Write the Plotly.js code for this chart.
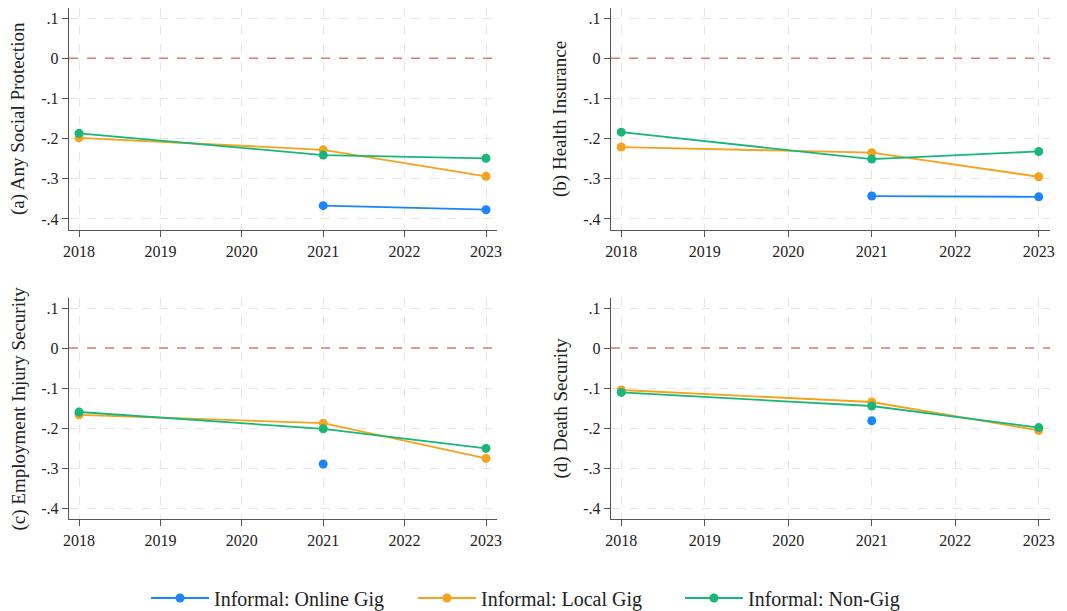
<!DOCTYPE html>
<html>
<head>
<meta charset="utf-8">
<script src="https://cdn.plot.ly/plotly-3.0.1.min.js"></script>
<style>html,body{margin:0;padding:0;background:#fff;}#chart{width:1067px;height:611px;}</style>
</head>
<body>
<div id="chart"></div>
<script>
const years = [2018, 2021, 2023];
const panelTitles = ["(a) Any Social Protection", "(b) Health Insurance", "(c) Employment Injury Security", "(d) Death Security"];
const seriesNames = ["Informal: Online Gig", "Informal: Local Gig", "Informal: Non-Gig"];
const seriesColors = ["#1a85ff", "#f5a31c", "#18b679"];

// values per panel, aligned with years (null = not available)
const onlineGig = [
  [null, -0.367, -0.377],
  [null, -0.343, -0.345],
  [null, -0.290, null],
  [null, -0.182, null]
];
const localGig = [
  [-0.198, -0.228, -0.294],
  [-0.221, -0.235, -0.295],
  [-0.167, -0.188, -0.276],
  [-0.105, -0.135, -0.206]
];
const nonGig = [
  [-0.187, -0.241, -0.249],
  [-0.184, -0.251, -0.232],
  [-0.160, -0.202, -0.251],
  [-0.111, -0.145, -0.199]
];

const xTicks = [2018, 2019, 2020, 2021, 2022, 2023];
const yTickVals = [0.1, 0, -0.1, -0.2, -0.3, -0.4];
const yTickText = [".1", "0", "-.1", "-.2", "-.3", "-.4"];

const W = 1067, H = 611;
const font = "'Liberation Serif', serif";
const panels = [
  {l: 69, r: 497, t: 8, b: 230},
  {l: 611, r: 1050, t: 8, b: 230},
  {l: 69, r: 497, t: 298, b: 519},
  {l: 611, r: 1050, t: 298, b: 519}
];
const allSeries = [onlineGig, localGig, nonGig];

const traces = [];
const layout = {
  width: W, height: H,
  margin: {l: 0, r: 0, t: 0, b: 0, autoexpand: false},
  paper_bgcolor: "#fff", plot_bgcolor: "#fff",
  font: {family: font, size: 15, color: "#222"},
  showlegend: true,
  legend: {orientation: "h", x: 146 / 1067, xanchor: "left", y: 13 / 611, yanchor: "middle",
           font: {family: font, size: 20, color: "#222"}, itemwidth: 58, tracegroupgap: 0,
           entrywidth: 194, entrywidthmode: "pixels"},
  shapes: [], annotations: []
};

panels.forEach((p, i) => {
  const ax = i === 0 ? "" : String(i + 1);
  const xa = "x" + ax, ya = "y" + ax;
  allSeries.forEach((s, k) => {
    traces.push({
      x: years, y: s[i], type: "scatter", mode: "lines+markers",
      name: seriesNames[k], legendgroup: seriesNames[k], showlegend: i === 0,
      line: {color: seriesColors[k], width: 1.8},
      marker: {color: seriesColors[k], size: 9},
      connectgaps: false,
      xaxis: xa, yaxis: ya, hoverinfo: "skip"
    });
  });
  layout["xaxis" + ax] = {
    domain: [p.l / W, p.r / W], anchor: ya,
    range: [2017.877, 2023.135],
    tickvals: xTicks, ticks: "outside", ticklen: 6, tickcolor: "#555",
    showline: true, linecolor: "#555", linewidth: 1.3,
    showgrid: true, gridcolor: "#e6e6e6", griddash: "dash", gridwidth: 1,
    zeroline: false, tickfont: {family: font, size: 16, color: "#222"}
  };
  layout["yaxis" + ax] = {
    domain: [1 - p.b / H, 1 - p.t / H], anchor: xa,
    range: [-0.4275, 0.125],
    tickvals: yTickVals, ticktext: yTickText, ticks: "outside", ticklen: 6, tickcolor: "#555",
    showline: true, linecolor: "#555", linewidth: 1.3,
    showgrid: true, gridcolor: "#e6e6e6", griddash: "dash", gridwidth: 1,
    zeroline: false, tickfont: {family: font, size: 16, color: "#222"}
  };
  layout.shapes.push({
    type: "line", xref: xa + " domain", yref: ya, x0: 0, x1: 1, y0: 0, y1: 0,
    line: {color: "#e07a74", width: 1.4, dash: "dash"}, layer: "above"
  });
  layout.annotations.push({
    text: panelTitles[i], textangle: -90, showarrow: false,
    xref: "paper", yref: "paper",
    x: (p.l - 51) / W, xanchor: "center",
    y: 1 - ((p.t + p.b) / 2) / H, yanchor: "middle",
    font: {family: font, size: 19, color: "#222"}
  });
});

Plotly.newPlot("chart", traces, layout, {staticPlot: true, displayModeBar: false});
</script>
</body>
</html>
